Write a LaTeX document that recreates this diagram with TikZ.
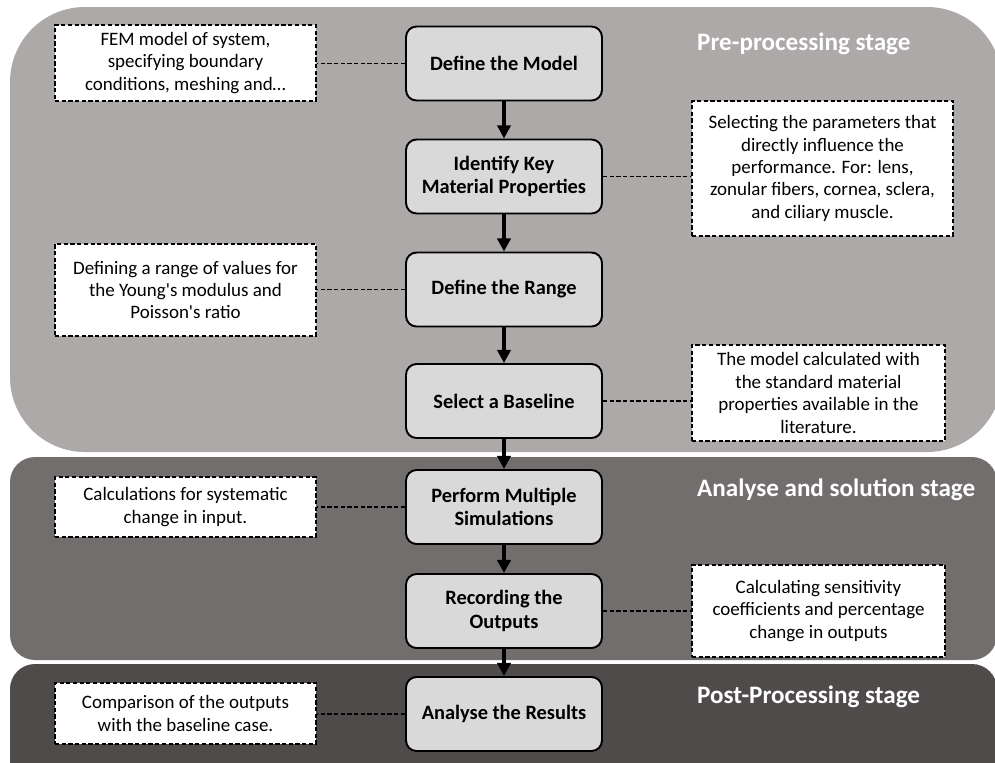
\documentclass[tikz,border=0pt]{standalone}
\usepackage{fontspec}
\setmainfont{Carlito}
\usetikzlibrary{arrows.meta}

\definecolor{preGray}{HTML}{ADA9A8}
\definecolor{solGray}{HTML}{736E6E}
\definecolor{postGray}{HTML}{4F4B4B}
\definecolor{boxGray}{HTML}{D9D9D9}

\begin{document}
\begin{tikzpicture}[x=0.02cm, y=-0.02cm]
\tikzstyle{process}=[rectangle, rounded corners=6pt, draw=black, line width=1.1pt, fill=boxGray, minimum width=3.92cm, minimum height=1.48cm, align=center, font=\fontsize{11.6}{13.2}\selectfont\bfseries]
\tikzstyle{note}=[rectangle, draw=black, dash pattern=on 2.4pt off 1.4pt, line width=0.85pt, fill=white, align=center, font=\fontsize{10.8}{12.75}\selectfont]
\tikzstyle{left note}=[note, minimum width=5.22cm];
\tikzstyle{right note}=[note, minimum width=5.06cm];
\tikzstyle{stage title}=[anchor=west, text=white, font=\fontsize{14.3}{17}\selectfont\bfseries]
\tikzstyle{flow} = [-{Triangle[length=7.5pt, width=7.5pt]}, line width=2pt]
\tikzstyle{link} = [dash pattern=on 2.4pt off 1.4pt, line width=0.85pt]

\useasboundingbox (0,0) rectangle (995,762);

% Draw the stage backgrounds
\fill[preGray, rounded corners=1.5cm] (10,7) rectangle (1002,452);
\fill[solGray, rounded corners=0.5cm] (10,457) rectangle (997,660);
\fill[postGray, rounded corners=0.5cm] (10,664) rectangle (997,800);

\node[stage title] (preTitle) at (691,44) {Pre-processing stage};
\node[stage title] (solTitle) at (691,490) {Analyse and solution stage};
\node[stage title] (postTitle) at (691,697) {Post-Processing stage};

% Draw the process steps
\node[process] (model) at (504,63.5) {Define the Model};
\node[process] (keyprop) at (504,176.5) {Identify Key\\Material Properties};
\node[process] (range) at (504,289.5) {Define the Range};
\node[process] (baseline) at (504,401) {Select a Baseline};
\node[process] (simul) at (504,507) {Perform Multiple\\Simulations};
\node[process] (record) at (504,611) {Recording the\\Outputs};
\node[process] (results) at (504,714) {Analyse the Results};

\foreach \a/\b in {model/keyprop, keyprop/range, range/baseline, baseline/simul, simul/record, record/results}
    \draw [flow] (\a) -- (\b);

% Draw the notes
\node[left note, minimum height=1.52cm] (modelNote) at (185.5,63) {FEM model of system,\\specifying boundary\\conditions, meshing and\ldots};
\node[right note, minimum height=2.7cm, minimum width=5.22cm] (keypropNote) at (822.5,168.5) {Selecting the parameters that\\directly influence the\\performance. For: lens,\\zonular fibers, cornea, sclera,\\and ciliary muscle.};
\node[left note, minimum height=1.84cm] (rangeNote) at (185.5,290) {Defining a range of values for\\the Young\textquotesingle s modulus and\\Poisson\textquotesingle s ratio};
\node[right note, minimum height=1.92cm] (baselineNote) at (818.5,393) {The model calculated with\\the standard material\\properties available in the\\literature.};
\node[left note, minimum height=1.2cm] (simulNote) at (185.5,507) {Calculations for systematic\\change in input.};
\node[right note, minimum height=1.84cm] (recordNote) at (818.5,611) {Calculating sensitivity\\coefficients and percentage\\change in outputs};
\node[left note, minimum height=1.22cm] (resultsNote) at (185.5,713.5) {Comparison of the outputs\\with the baseline case.};

\foreach \s/\n in {model/modelNote, range/rangeNote, simul/simulNote, results/resultsNote}
    \draw [link] (\s.west) -- (\s.west -| \n.east);
\foreach \s/\n in {keyprop/keypropNote, baseline/baselineNote, record/recordNote}
    \draw [link] (\s.east) -- (\s.east -| \n.west);

\end{tikzpicture}
\end{document}
